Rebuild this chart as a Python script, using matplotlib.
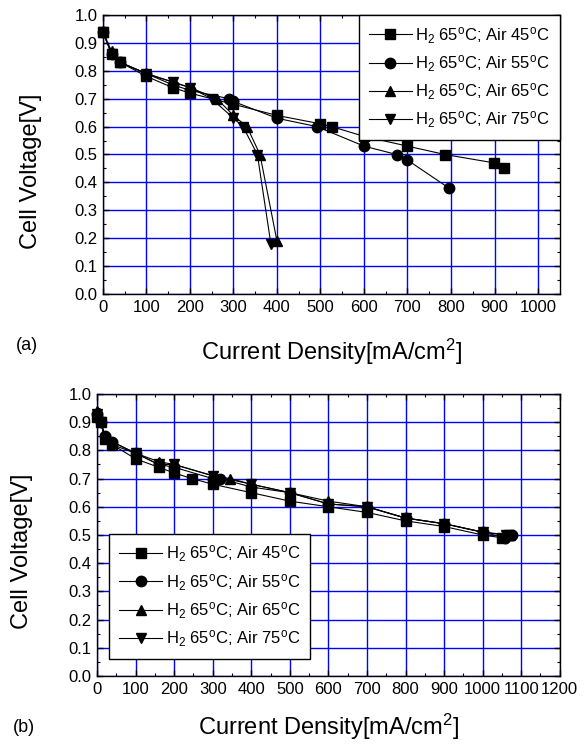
import matplotlib
matplotlib.use('Agg')
import matplotlib.pyplot as plt
from matplotlib.ticker import MultipleLocator

plt.rcParams['font.family'] = ['Liberation Sans', 'DejaVu Sans']
plt.rcParams['mathtext.fontset'] = 'custom'
plt.rcParams['mathtext.rm'] = 'Liberation Sans'
plt.rcParams['mathtext.it'] = 'Liberation Sans'

labels = [r'H$_2$ 65$^{\rm o}$C; Air 45$^{\rm o}$C',
          r'H$_2$ 65$^{\rm o}$C; Air 55$^{\rm o}$C',
          r'H$_2$ 65$^{\rm o}$C; Air 65$^{\rm o}$C',
          r'H$_2$ 65$^{\rm o}$C; Air 75$^{\rm o}$C']
markers = ['s', 'o', '^', 'v']

# panel (a)
a45_x = [0, 20, 40, 100, 160, 200, 300, 400, 500, 526, 600, 700, 786, 899, 922]
a45_y = [0.94, 0.86, 0.83, 0.78, 0.74, 0.72, 0.68, 0.64, 0.61, 0.60, 0.565, 0.53, 0.50, 0.47, 0.45]
a55_x = [0, 20, 40, 100, 160, 200, 290, 300, 400, 492, 600, 675, 700, 795]
a55_y = [0.94, 0.86, 0.83, 0.79, 0.75, 0.73, 0.70, 0.69, 0.63, 0.60, 0.53, 0.50, 0.48, 0.38]
a65_x = [0, 20, 40, 100, 160, 200, 262, 300, 331, 361, 400]
a65_y = [0.94, 0.87, 0.83, 0.79, 0.76, 0.74, 0.70, 0.64, 0.60, 0.50, 0.19]
a75_x = [0, 20, 40, 100, 160, 200, 250, 300, 322, 355, 386]
a75_y = [0.94, 0.86, 0.83, 0.79, 0.76, 0.74, 0.70, 0.63, 0.60, 0.50, 0.18]

# panel (b)
b45_x = [0, 10, 20, 40, 100, 160, 200, 246, 300, 400, 500, 600, 700, 800, 900, 1000, 1050, 1068]
b45_y = [0.92, 0.90, 0.84, 0.82, 0.77, 0.74, 0.72, 0.70, 0.68, 0.65, 0.62, 0.60, 0.58, 0.55, 0.53, 0.50, 0.49, 0.50]
b55_x = [0, 10, 20, 40, 100, 160, 200, 300, 320, 400, 500, 600, 700, 800, 900, 1000, 1058, 1075]
b55_y = [0.93, 0.90, 0.85, 0.83, 0.79, 0.75, 0.74, 0.70, 0.70, 0.67, 0.65, 0.61, 0.60, 0.56, 0.54, 0.51, 0.49, 0.50]
b65_x = [0, 10, 20, 40, 100, 160, 200, 300, 346, 400, 500, 600, 700, 800, 900, 1000, 1070]
b65_y = [0.94, 0.91, 0.85, 0.83, 0.79, 0.76, 0.75, 0.71, 0.70, 0.68, 0.65, 0.62, 0.60, 0.56, 0.54, 0.51, 0.50]
b75_x = [0, 10, 20, 40, 100, 160, 200, 300, 400, 500, 600, 700, 800, 900, 1000, 1060]
b75_y = [0.93, 0.90, 0.84, 0.82, 0.79, 0.75, 0.75, 0.71, 0.68, 0.65, 0.61, 0.60, 0.56, 0.54, 0.51, 0.50]

xlabel = r'Current Density[mA/cm$^2$]'
ylabel = 'Cell Voltage[V]'


def style_axes(ax, xmax, xlab_y, ylab_x, ylab_y):
    ax.set_xlim(0, xmax)
    ax.set_ylim(0, 1.0)
    ax.xaxis.set_major_locator(MultipleLocator(100))
    ax.xaxis.set_minor_locator(MultipleLocator(50))
    ax.yaxis.set_major_locator(MultipleLocator(0.1))
    ax.yaxis.set_minor_locator(MultipleLocator(0.05))
    ax.yaxis.set_major_formatter(matplotlib.ticker.FormatStrFormatter('%.1f'))
    ax.grid(True, which='major', color='#0000ff', lw=1.0)
    ax.set_axisbelow(True)
    ax.tick_params(which='both', direction='in', top=True, right=True, labelsize=12)
    ax.tick_params(which='major', length=4, width=1, pad=4)
    ax.tick_params(which='minor', length=2.5, width=0.8)
    for s in ax.spines.values():
        s.set_linewidth(1.0)
    ax.set_xlabel(xlabel, fontsize=17)
    ax.set_ylabel(ylabel, fontsize=17)
    ax.xaxis.set_label_coords(0.5, xlab_y)
    ax.yaxis.set_label_coords(ylab_x, ylab_y)


fig = plt.figure(figsize=(5.88, 7.5), dpi=100)
ax1 = fig.add_axes([0.175, 0.608, 0.777, 0.372])
ax2 = fig.add_axes([0.165, 0.0987, 0.787, 0.376])

for xs, ys, m, lab in zip([a45_x, a55_x, a65_x, a75_x], [a45_y, a55_y, a65_y, a75_y], markers, labels):
    ax1.plot(xs, ys, color='black', lw=0.8, marker=m, ms=7.5, label=lab, clip_on=False)
for xs, ys, m, lab in zip([b45_x, b55_x, b65_x, b75_x], [b45_y, b55_y, b65_y, b75_y], markers, labels):
    ax2.plot(xs, ys, color='black', lw=0.8, marker=m, ms=7.5, label=lab, clip_on=False)

style_axes(ax1, 1050, -0.155, -0.133, 0.44)
style_axes(ax2, 1200, -0.128, -0.138, 0.443)

for ax, kw in [(ax1, dict(loc='upper right', bbox_to_anchor=(1.0, 1.0))),
               (ax2, dict(loc='lower left', bbox_to_anchor=(0.026, 0.06)))]:
    leg = ax.legend(fontsize=12, frameon=True, fancybox=False, framealpha=1,
                    edgecolor='black', borderaxespad=0, handlelength=2.6,
                    handletextpad=0.2, labelspacing=0.45, borderpad=0.6, **kw)
    leg.get_frame().set_linewidth(1.0)
    leg.set_zorder(5)

fig.text(27 / 588, 1 - 345 / 750, '(a)', fontsize=13, ha='center', va='center')
fig.text(24 / 588, 1 - 728 / 750, '(b)', fontsize=13, ha='center', va='center')

fig.savefig('out.png', dpi=100)
